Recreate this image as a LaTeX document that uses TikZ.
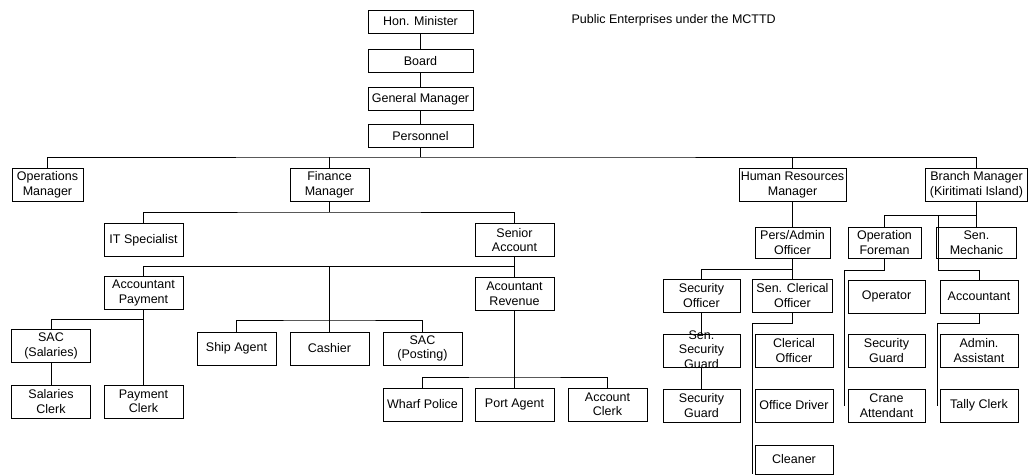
\documentclass[tikz,border=0pt]{standalone}
\usepackage{fontspec}
\setmainfont{Liberation Sans}

\tikzset{
    box/.style={draw, line width=0.8pt, align=center, inner sep=1pt,
        minimum width=79pt, minimum height=33pt,
        font=\fontsize{12.5}{14.5}\selectfont},
    link/.style={line width=0.8pt}
}

\begin{document}
\begin{tikzpicture}[x=1pt, y=-1pt]
    \useasboundingbox (0,0) rectangle (1031,475);

    % top of the chart
    \node[box, minimum width=105pt, minimum height=23pt] (hon) at (420.5,21.5) {Hon. Minister};
    \node[box, minimum width=105pt, minimum height=23pt] (board) at (420.5,61) {Board};
    \node[box, minimum width=105pt, minimum height=23pt] (gm) at (420.5,99) {General Manager};
    \node[box, minimum width=105pt, minimum height=23pt] (pers) at (420.5,136) {Personnel};
    \node[anchor=west, font=\fontsize{12.5}{15}\selectfont] (title) at (568,20) {Public Enterprises under the MCTTD};

    \draw[link] (hon) -- (board);
    \draw[link] (board) -- (gm);
    \draw[link] (gm) -- (pers);

    % managers
    \node[box, minimum width=71pt] (ops) at (47.5,185) {Operations\\Manager};
    \node[box] (fin) at (329.5,185) {Finance\\Manager};
    \node[box, minimum width=107pt] (hr) at (792.5,185) {Human Resources\\Manager};
    \node[box, minimum width=102pt] (branch) at (976.5,185) {Branch Manager\\(Kiritimati Island)};

    \coordinate (bus1) at (420.5,157);
    \draw[link] (pers) -- (bus1);
    \draw[link] (ops.north) |- (bus1) -| (branch.north);
    \draw[link] (fin.north) -- (fin.north |- bus1);
    \draw[link] (hr.north) -- (hr.north |- bus1);

    % finance
    \node[box] (it) at (143.5,240) {IT Specialist};
    \node[box] (senacc) at (514.5,240) {Senior\\Account};
    \node[box] (accpay) at (143.5,293) {Accountant\\Payment};
    \node[box] (accrev) at (514.5,294) {Acountant\\Revenue};
    \node[box] (ship) at (236.5,348.5) {Ship Agent};
    \node[box] (cashier) at (329.5,348.5) {Cashier};
    \node[box] (sacpost) at (422.5,348.5) {SAC\\(Posting)};
    \node[box] (sacsal) at (51,346) {SAC\\(Salaries)};
    \node[box] (salclerk) at (51,401.5) {Salaries\\Clerk};
    \node[box] (payclerk) at (143.5,401.5) {Payment\\Clerk};
    \node[box] (wharf) at (422.5,404.5) {Wharf Police};
    \node[box] (port) at (514.5,404.5) {Port Agent};
    \node[box] (accclerk) at (607.5,404.5) {Account\\Clerk};

    \coordinate (bus2) at (329.5,212);
    \draw[link] (fin.south) -- (bus2);
    \draw[link] (it.north) |- (bus2) -| (senacc.north);
    \coordinate (bus3) at (514.5,266);
    \draw[link] (senacc.south) -- (accrev.north);
    \draw[link] (accpay.north) |- (bus3);
    \coordinate (bus4) at (329.5,320);
    \draw[link] (cashier.north) -- (cashier.north |- bus3);
    \draw[link] (ship.north) |- (bus4) -| (sacpost.north);
    \coordinate (bus5) at (143.5,319);
    \draw[link] (accpay.south) -- (payclerk.north);
    \draw[link] (sacsal.north) |- (bus5);
    \draw[link] (sacsal.south) -- (salclerk.north);
    \coordinate (bus6) at (514.5,377);
    \draw[link] (accrev.south) -- (port.north);
    \draw[link] (wharf.north) |- (bus6) -| (accclerk.north);

    % human resources
    \node[box, minimum width=75pt, minimum height=31pt] (persadm) at (792.5,242.5) {Pers/Admin\\Officer};
    \node[box, minimum width=77pt] (secoff) at (701.5,295.5) {Security\\Officer};
    \node[box, minimum width=80pt] (senclr) at (792.5,295.5) {Sen. Clerical\\Officer};
    \node[box, minimum width=77pt] (sensec) at (701.5,350.5)
        {\raisebox{-7pt}{\smash{\begin{tabular}{@{}c@{}}Sen.\\Security\\Guard\end{tabular}}}};
    \node[box, minimum width=77pt] (secg1) at (701.5,405.5) {Security\\Guard};
    \node[box, minimum width=78pt] (clerk) at (794,350.5) {Clerical\\Officer};
    \node[box, minimum width=78pt] (driver) at (794,405.5) {Office Driver};
    \node[box, minimum width=78pt, minimum height=29pt] (cleaner) at (794,459.5) {Cleaner};

    \coordinate (bus7) at (792.5,269);
    \draw[link] (hr.south) -- (persadm.north);
    \draw[link] (persadm.south) -- (senclr.north);
    \draw[link] (secoff.north) |- (bus7);
    \draw[link] (secoff.south) -- (sensec.north);
    \draw[link] (sensec.south) -- (secg1.north);
    \draw[link] (senclr.south) -- ++(0,11) -| ([xshift=-2pt]cleaner.south west);

    % branch
    \node[box, minimum width=73pt, minimum height=31pt] (opfore) at (884.5,242.5) {Operation\\Foreman};
    \node[box, minimum width=80pt, minimum height=31pt] (senmech) at (976.5,242.5) {Sen.\\Mechanic};
    \node[box, minimum width=77pt] (operator) at (886.5,296.5) {Operator};
    \node[box, minimum width=77pt] (secg2) at (886.5,350.5) {Security\\Guard};
    \node[box, minimum width=77pt] (crane) at (886.5,405.5) {Crane\\Attendant};
    \node[box, minimum width=78pt] (acct) at (979,296.5) {Accountant};
    \node[box, minimum width=78pt] (admin) at (979,350.5) {Admin.\\Assistant};
    \node[box, minimum width=78pt] (tally) at (979,405.5) {Tally Clerk};

    \coordinate (bus8) at (976.5,215);
    \draw[link] (branch.south) -- (senmech.north);
    \draw[link] (opfore.north) |- (bus8);
    \coordinate (acctap) at (938,215);
    \draw[link] (acctap) -- ++(0,55) -| (acct.north);
    \draw[link] (opfore.south) -- ++(0,12) -| ([xshift=-3pt]crane.west);
    \draw[link] (acct.south) -- ++(0,10) -| ([xshift=-2pt]tally.west);
\end{tikzpicture}
\end{document}
